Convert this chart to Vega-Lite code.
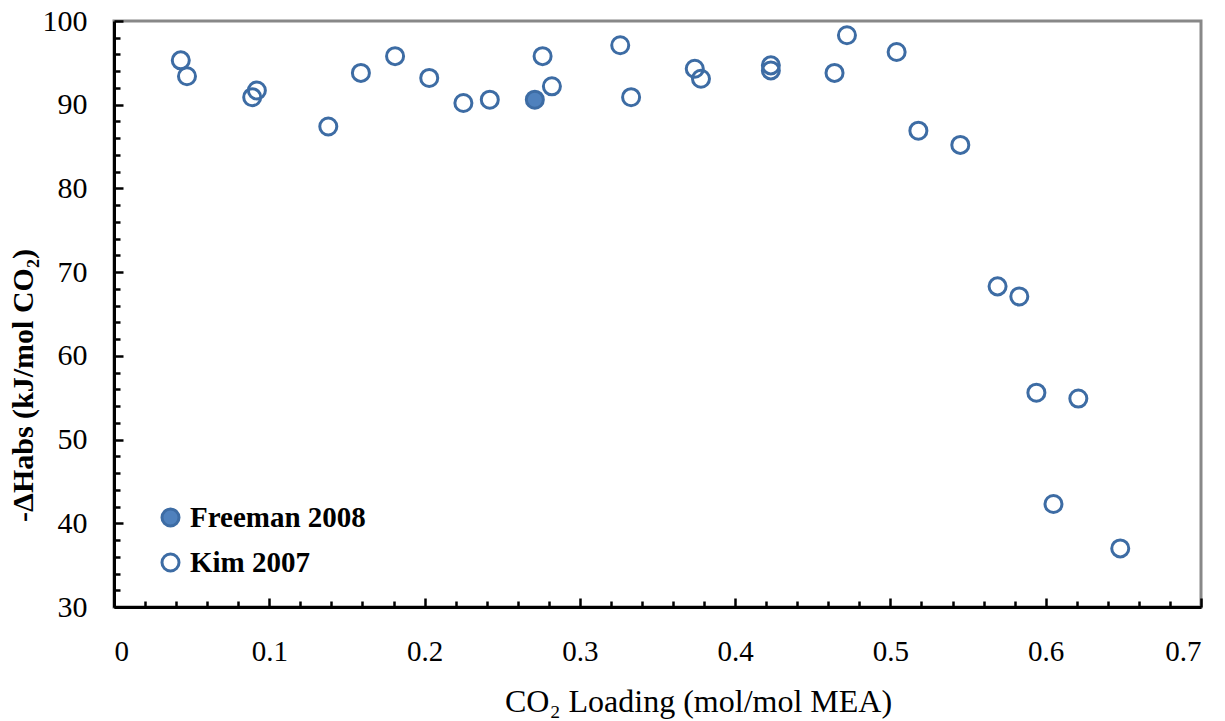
{
  "$schema": "https://vega.github.io/schema/vega-lite/v6.json",
  "autosize": "none",
  "width": 1087,
  "height": 586,
  "padding": {"left": 114, "top": 21, "right": 24, "bottom": 114},
  "background": "white",
  "config": {
    "view": {"stroke": "#888888", "strokeWidth": 3},
    "font": "Liberation Serif"
  },
  "resolve": {"axis": {"x": "independent", "y": "independent"}},
  "data": {
    "values": [
      {"loading": 0.271, "dh": 90.6, "series": "Freeman 2008"},
      {"loading": 0.043, "dh": 95.3, "series": "Kim 2007"},
      {"loading": 0.047, "dh": 93.4, "series": "Kim 2007"},
      {"loading": 0.089, "dh": 90.9, "series": "Kim 2007"},
      {"loading": 0.092, "dh": 91.7, "series": "Kim 2007"},
      {"loading": 0.138, "dh": 87.4, "series": "Kim 2007"},
      {"loading": 0.159, "dh": 93.8, "series": "Kim 2007"},
      {"loading": 0.181, "dh": 95.8, "series": "Kim 2007"},
      {"loading": 0.203, "dh": 93.2, "series": "Kim 2007"},
      {"loading": 0.225, "dh": 90.2, "series": "Kim 2007"},
      {"loading": 0.242, "dh": 90.6, "series": "Kim 2007"},
      {"loading": 0.276, "dh": 95.8, "series": "Kim 2007"},
      {"loading": 0.282, "dh": 92.2, "series": "Kim 2007"},
      {"loading": 0.326, "dh": 97.1, "series": "Kim 2007"},
      {"loading": 0.333, "dh": 90.9, "series": "Kim 2007"},
      {"loading": 0.374, "dh": 94.3, "series": "Kim 2007"},
      {"loading": 0.378, "dh": 93.1, "series": "Kim 2007"},
      {"loading": 0.423, "dh": 94.7, "series": "Kim 2007"},
      {"loading": 0.423, "dh": 94.1, "series": "Kim 2007"},
      {"loading": 0.464, "dh": 93.8, "series": "Kim 2007"},
      {"loading": 0.472, "dh": 98.3, "series": "Kim 2007"},
      {"loading": 0.504, "dh": 96.3, "series": "Kim 2007"},
      {"loading": 0.518, "dh": 86.9, "series": "Kim 2007"},
      {"loading": 0.545, "dh": 85.2, "series": "Kim 2007"},
      {"loading": 0.569, "dh": 68.3, "series": "Kim 2007"},
      {"loading": 0.583, "dh": 67.1, "series": "Kim 2007"},
      {"loading": 0.594, "dh": 55.6, "series": "Kim 2007"},
      {"loading": 0.621, "dh": 54.9, "series": "Kim 2007"},
      {"loading": 0.605, "dh": 42.3, "series": "Kim 2007"},
      {"loading": 0.648, "dh": 37.0, "series": "Kim 2007"}
    ]
  },
  "layer": [
    {
      "mark": {"type": "point", "opacity": 0, "filled": true},
      "encoding": {
        "x": {
          "field": "loading", "type": "quantitative",
          "scale": {"domain": [0, 0.7], "nice": false, "zero": false},
          "axis": {
            "orient": "bottom",
            "values": [0.02,0.04,0.06,0.08,0.12,0.14,0.16,0.18,0.22,0.24,0.26,0.28,0.32,0.34,0.36,0.38,0.42,0.44,0.46,0.48,0.52,0.54,0.56,0.58,0.62,0.64,0.66,0.68],
            "labels": false, "domain": false, "grid": false, "title": null,
            "tickSize": -6, "tickWidth": 2.5, "tickColor": "black"
          }
        },
        "y": {
          "field": "dh", "type": "quantitative",
          "scale": {"domain": [30, 100], "nice": false, "zero": false},
          "axis": {
            "orient": "left",
            "values": [32,34,36,38,42,44,46,48,52,54,56,58,62,64,66,68,72,74,76,78,82,84,86,88,92,94,96,98],
            "labels": false, "domain": false, "grid": false, "title": null,
            "tickSize": -6, "tickWidth": 2.5, "tickColor": "black"
          }
        }
      }
    },
    {
      "mark": {"type": "point", "shape": "circle", "size": 290, "strokeWidth": 3, "stroke": "#3D6CA4", "opacity": 1},
      "encoding": {
        "x": {
          "field": "loading", "type": "quantitative",
          "title": "CO₂ Loading (mol/mol MEA)",
          "axis": {
            "orient": "bottom",
            "values": [0, 0.1, 0.2, 0.3, 0.4, 0.5, 0.6, 0.7],
            "format": "~g",
            "grid": false,
            "domainColor": "black", "domainWidth": 3,
            "tickSize": -9, "tickWidth": 2.5, "tickColor": "black",
            "labelPadding": 39, "labelFontSize": 29, "labelColor": "black", "labelFont": "Liberation Serif",
            "titleFontSize": 32, "titleFont": "Liberation Serif", "titleFontWeight": "normal", "titleColor": "black",
            "titlePadding": 20, "titleX": 584
          }
        },
        "y": {
          "field": "dh", "type": "quantitative",
          "title": "-ΔHabs (kJ/mol CO₂)",
          "axis": {
            "orient": "left",
            "values": [30, 40, 50, 60, 70, 80, 90, 100],
            "grid": false,
            "domainColor": "black", "domainWidth": 3,
            "tickSize": -9, "tickWidth": 2.5, "tickColor": "black",
            "labelPadding": 36, "labelFontSize": 30, "labelColor": "black", "labelFont": "Liberation Serif",
            "titleFontSize": 30, "titleFont": "Liberation Serif", "titleFontWeight": "bold", "titleColor": "black",
            "titlePadding": 4, "titleY": 364
          }
        },
        "fill": {
          "field": "series", "type": "nominal",
          "scale": {"domain": ["Freeman 2008", "Kim 2007"], "range": ["#4F81BD", "rgba(255,255,255,0)"]},
          "legend": {
            "title": null,
            "orient": "none",
            "legendX": 42,
            "legendY": 482,
            "labelFont": "Liberation Serif",
            "labelFontSize": 29,
            "labelFontWeight": "bold",
            "labelColor": "black",
            "labelLimit": 400,
            "labelOffset": 5,
            "symbolSize": 290,
            "symbolStrokeWidth": 3,
            "symbolStrokeColor": "#3D6CA4",
            "symbolType": "circle",
            "rowPadding": 14
          }
        }
      }
    }
  ]
}
